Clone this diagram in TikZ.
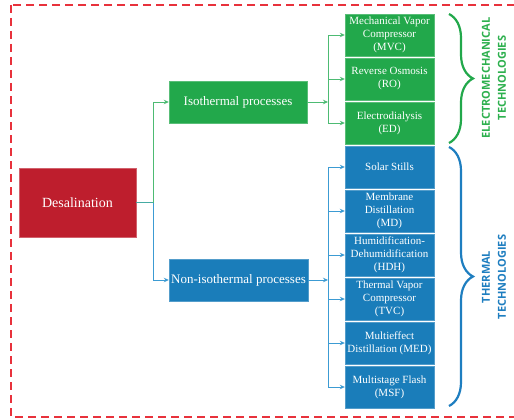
\documentclass[tikz,border=0pt]{standalone}
\usepackage{fontspec}
\setmainfont{Liberation Serif}
\newfontfamily\labelfont{Open Sans}
\usetikzlibrary{arrows.meta,decorations.pathreplacing}

\definecolor{boxred}{HTML}{BE1E2D}
\definecolor{boxgreen}{HTML}{22A84B}
\definecolor{boxblue}{HTML}{1A7DBA}
\definecolor{linkgreen}{HTML}{4DBB73}
\definecolor{linkblue}{HTML}{3C9BD3}
\definecolor{framered}{HTML}{E8323C}
\definecolor{labelgreen}{HTML}{2DB04E}
\definecolor{labelblue}{HTML}{1E7EC0}

\begin{document}
\begin{tikzpicture}[x=1pt,y=-1pt,
  techbox/.style={minimum width=89pt, minimum height=42pt, inner sep=1pt,
    align=center, text=white, font=\fontsize{11}{13}\selectfont},
  greenbox/.style={techbox, fill=boxgreen, draw=boxgreen!75!white, line width=0.4pt},
  bluebox/.style={techbox, fill=boxblue, draw=boxblue!75!white, line width=0.4pt},
  procbox/.style={minimum width=138pt, minimum height=42pt, inner sep=1pt,
    align=center, text=white, font=\fontsize{13}{15}\selectfont, line width=0.4pt},
  link/.style={line width=0.8pt},
  tip/.style={-{Stealth[length=5pt,width=4.5pt]}},
  techbrace/.style={decorate, decoration={brace, amplitude=24pt}, line width=2.2pt},
  techlabel/.style={rotate=90, align=center, inner sep=0pt,
    font=\labelfont\bfseries\fontsize{11}{16}\selectfont}
]
\clip (0,0) rectangle (514,420);
\fill[white] (0,0) rectangle (514,420);

% dashed outer frame
\draw[framered, line width=1.8pt, dash pattern=on 8pt off 5pt] (11,5) rectangle (540,417);

% root and process boxes
\node[fill=boxred, draw=boxred!70!white, line width=0.4pt, minimum width=117pt, minimum height=69pt,
  text=white, font=\fontsize{14}{16}\selectfont] (desal) at (77.5,202.5) {Desalination};
\node[procbox, fill=boxgreen, draw=boxgreen!75!white] (iso) at (238,102) {Isothermal processes};
\node[procbox, fill=boxblue, draw=boxblue!75!white, minimum width=139pt] (noniso) at (238.5,280) {Non-isothermal processes};

% electromechanical technologies
\node[greenbox] (mvc) at (389.5,35) {Mechanical Vapor\\Compressor\\(MVC)};
\node[greenbox] (ro) at (389.5,79) {Reverse Osmosis\\(RO)};
\node[greenbox] (ed) at (389.5,123) {Electrodialysis\\(ED)};

% thermal technologies
\node[bluebox] (solar) at (389.5,167) {Solar Stills};
\node[bluebox] (md) at (389.5,211) {Membrane\\Distillation\\(MD)};
\node[bluebox] (hdh) at (389.5,255) {Humidification-\\Dehumidification\\(HDH)};
\node[bluebox] (tvc) at (389.5,299) {Thermal Vapor\\Compressor\\(TVC)};
\node[bluebox] (med) at (389.5,343) {Multieffect\\Distillation (MED)};
\node[bluebox] (msf) at (389.5,387) {Multistage Flash\\(MSF)};

% junction points
\coordinate (split) at (153,202.5);
\coordinate (isojoin) at (328,102);
\coordinate (nonjoin) at (328,280);

% root branches
\draw[link, linkgreen, tip] (desal.east) -- (split) |- (iso);
\draw[link, linkblue, tip] (split) |- (noniso);
\draw[link, linkgreen!50!linkblue] (desal.east) -- (split);

% isothermal branches
\draw[link, linkgreen, tip] (iso.east) -- (isojoin);
\foreach \t in {mvc,ro,ed}
  \draw[link, linkgreen, tip] (isojoin) |- (\t);

% non-isothermal branches
\draw[link, linkblue, tip] (noniso.east) -- (nonjoin);
\foreach \t in {solar,md,hdh,tvc,med,msf}
  \draw[link, linkblue, tip] (nonjoin) |- (\t);

% braces and group labels
\draw[techbrace, boxgreen] (449,14) -- (449,143);
\draw[techbrace, labelblue] (449,147) -- (449,406);
\node[techlabel, text=labelgreen] (emlabel) at (494,78) {ELECTROMECHANICAL\\TECHNOLOGIES};
\node[techlabel, text=labelblue] (thlabel) at (494,277) {THERMAL\\TECHNOLOGIES};
\end{tikzpicture}
\end{document}
